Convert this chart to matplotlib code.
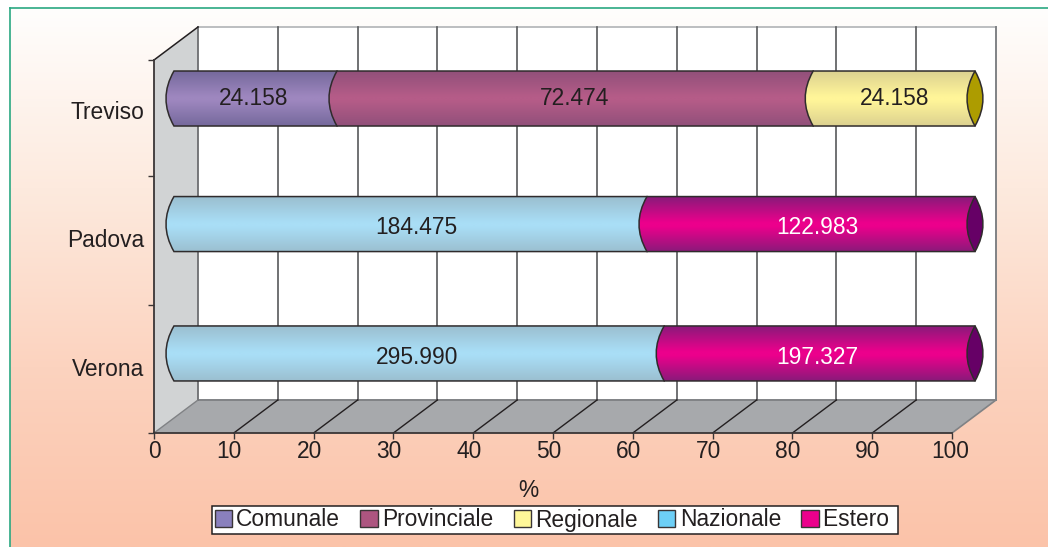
import numpy as np
import matplotlib
matplotlib.use("Agg")
import matplotlib.pyplot as plt
from matplotlib.colors import LinearSegmentedColormap
from matplotlib.lines import Line2D
from matplotlib.patches import PathPatch, Polygon, Patch
from matplotlib.path import Path
from matplotlib.transforms import Affine2D

plt.rcParams["font.family"] = ["Liberation Sans", "DejaVu Sans"]

# =========================================================
# DATA
# =========================================================

categories = ["Verona", "Padova", "Treviso"]
series_names = ["Comunale", "Provinciale", "Regionale", "Nazionale", "Estero"]

# printed values
comunale = [0, 0, 24.158]
provinciale = [0, 0, 72.474]
regionale = [0, 0, 24.158]
nazionale = [295.990, 184.475, 0]
estero = [197.327, 122.983, 0]

# bar lengths as drawn (%)
comunale_pct = [0, 0, 20.35]
provinciale_pct = [0, 0, 59.45]
regionale_pct = [0, 0, 20.2]
nazionale_pct = [61.2, 59.05, 0]
estero_pct = [38.8, 40.95, 0]

x_ticks = [0, 10, 20, 30, 40, 50, 60, 70, 80, 90, 100]

# =========================================================
# STYLE
# =========================================================

W, H = 1048, 547
TXT = "#231f20"
FS = 16.4

legend_colors = ["#8a80bd", "#ad5580", "#fff799", "#6dcff6", "#ec008c"]
mid_colors = ["#9e87bf", "#b55c88", "#fff599", "#a9def6", "#ec008c"]
edge_colors = ["#75699c", "#91507a", "#dcd190", "#9bbfd0", "#8a1a7a"]
label_colors = [TXT, TXT, TXT, TXT, "white"]
cap_colors = {2: "#ad9c00", 1: "#660066", 0: "#660066"}

# depth of the fake 3d box, in data units
DX = 44 / 7.98
DY = 33 / 128.5
Y_TOP = 373 / 128.5
BAR_Y = [0.619, 1.626, 2.603]
BAR_H = 0.428
BAR_X0 = 2.5
BAR_SCALE = 1.0038
BULGE = 2.0
# value labels are not quite centred on the bars in the original
LABEL_Y = [0.591, 1.603, 2.607]
LABEL_DX = [0.35, 0.3, 0.0]


def lens_edge(x, y, h, bulge):
    # pointed arc from the bottom corner to the top corner
    return [(x, y - h / 2), (x + bulge, y), (x, y + h / 2)]


def draw_segment(ax, x0, x1, y, h, mid, edge, z):
    a, ctrl, b = lens_edge(x0, y, h, -BULGE)
    verts = [a, (x1, y - h / 2), (x1, y + h / 2), b, ctrl, a, a]
    codes = [Path.MOVETO, Path.LINETO, Path.LINETO, Path.LINETO,
             Path.CURVE3, Path.CURVE3, Path.CLOSEPOLY]
    outline = PathPatch(Path(verts, codes), fc="none", ec="#2f2b2c", lw=1.1,
                        clip_on=False, zorder=z + 0.1)
    ax.add_patch(outline)

    cmap = LinearSegmentedColormap.from_list(
        "bar", [(0, edge), (0.46, mid), (0.54, mid), (1, edge)])
    grad = np.linspace(0, 1, 128).reshape(-1, 1)
    im = ax.imshow(grad, cmap=cmap, aspect="auto", zorder=z, interpolation="bilinear",
                   extent=(x0 - BULGE, x1 + 0.5, y - h / 2, y + h / 2))
    im.set_clip_path(outline)
    # the cylinders run past the axes box, so clip to the figure instead
    im.set_clip_box(ax.figure.bbox)


# =========================================================
# BACKGROUND
# =========================================================

fig = plt.figure(figsize=(W / 100, H / 100), dpi=100, facecolor="white")

bg = fig.add_axes([10 / W, 0, 1 - 10 / W, 1 - 8 / H], zorder=0)
bg_cmap = LinearSegmentedColormap.from_list("bg", ["#fffefd", "#fdeade", "#fcd3bf", "#fbc3a9"])
bg.imshow(np.linspace(0, 1, 256).reshape(-1, 1), cmap=bg_cmap, aspect="auto")
bg.axis("off")

fig.add_artist(Line2D([10 / W, 10 / W], [0, 1 - 8 / H], color="#2aa882", lw=1.2))
fig.add_artist(Line2D([10 / W, 1], [1 - 8 / H, 1 - 8 / H], color="#2aa882", lw=1.2))

# =========================================================
# CHART
# =========================================================

ax = fig.add_axes([154 / W, (H - 433) / H, 798 / W, 373 / H], zorder=1)
ax.patch.set_alpha(0)
ax.set_xlim(0, 100)
ax.set_ylim(0, Y_TOP)
ax.set_autoscale_on(False)

# back wall, left wall, floor
ax.add_patch(Polygon([(DX, DY), (100 + DX, DY), (100 + DX, Y_TOP + DY), (DX, Y_TOP + DY)],
                     fc="white", ec="none", clip_on=False, zorder=1))
ax.add_patch(Polygon([(0, 0), (DX, DY), (DX, Y_TOP + DY), (0, Y_TOP)],
                     fc="#d1d3d4", ec="none", clip_on=False, zorder=1.2))
ax.add_patch(Polygon([(0, 0), (100, 0), (100 + DX, DY), (DX, DY)],
                     fc="#a7a9ac", ec="none", clip_on=False, zorder=1.2))
ax.plot([DX, 100 + DX], [DY, DY], color="#808285", lw=1.4, clip_on=False, zorder=1.3)
ax.plot([DX, 100 + DX], [Y_TOP + DY, Y_TOP + DY], color="#bcbec0", lw=1.4, clip_on=False, zorder=1.3)
ax.plot([100 + DX, 100 + DX], [DY, Y_TOP + DY], color="#808285", lw=1.4, clip_on=False, zorder=1.3)
ax.plot([DX, DX], [DY, Y_TOP + DY], color="#6d6e71", lw=1.3, clip_on=False, zorder=1.3)
ax.plot([0, DX], [Y_TOP, Y_TOP + DY], color=TXT, lw=1.1, clip_on=False, zorder=1.3)
ax.plot([0, DX], [0, DY], color="#808285", lw=1.0, clip_on=False, zorder=1.3)
ax.plot([100, 100 + DX], [0, DY], color="#808285", lw=1.2, clip_on=False, zorder=1.3)

for t in x_ticks[1:-1]:
    ax.plot([t + DX, t + DX], [DY, Y_TOP + DY], color="#58595b", lw=1.2, clip_on=False, zorder=1.4)
    ax.plot([t, t + DX], [0, DY], color=TXT, lw=1.0, clip_on=False, zorder=1.4)

# stacked cylinders
values = [comunale, provinciale, regionale, nazionale, estero]
pcts = [comunale_pct, provinciale_pct, regionale_pct, nazionale_pct, estero_pct]

for row, y in enumerate(BAR_Y):
    start = 0.0
    val_start = 0.0
    val_total = sum(v[row] for v in values)
    z = 3
    for s in range(len(series_names)):
        p = pcts[s][row]
        if p == 0:
            continue
        x0 = BAR_X0 + start * BAR_SCALE
        x1 = BAR_X0 + (start + p) * BAR_SCALE
        draw_segment(ax, x0, x1, y, BAR_H, mid_colors[s], edge_colors[s], z)
        share = values[s][row] / val_total * 100
        ax.text(BAR_X0 + (val_start + share / 2) * BAR_SCALE + LABEL_DX[row], LABEL_Y[row],
                f"{values[s][row]:.3f}", ha="center", va="center", fontsize=FS,
                color=label_colors[s], zorder=20, clip_on=False)
        start += p
        val_start += share
        z += 1

    # end cap
    xe = BAR_X0 + 100 * BAR_SCALE
    a, c_l, b = lens_edge(xe, y, BAR_H, -BULGE)
    _, c_r, _ = lens_edge(xe, y, BAR_H, BULGE)
    cap = Path([a, c_r, b, c_l, a, a],
               [Path.MOVETO, Path.CURVE3, Path.CURVE3, Path.CURVE3, Path.CURVE3, Path.CLOSEPOLY])
    ax.add_patch(PathPatch(cap, fc=cap_colors[row], ec="#2f2b2c", lw=1.1, clip_on=False, zorder=15))

# axes
for side in ["top", "right"]:
    ax.spines[side].set_visible(False)
for side in ["left", "bottom"]:
    ax.spines[side].set_color("#3a3536")
    ax.spines[side].set_linewidth(1.3)
    ax.spines[side].set_zorder(10)

ax.set_xticks(x_ticks)
ax.set_xticklabels([str(t) for t in x_ticks], fontsize=FS, color=TXT)
ax.set_yticks([0, 1, 2, Y_TOP])
ax.set_yticklabels([])
ax.set_yticks([0.515, 1.515, 2.515], minor=True)
ax.set_yticklabels(categories, minor=True, fontsize=FS, color=TXT)
ax.tick_params(axis="both", which="major", length=4.3, width=1.0, color="#3a3536", pad=1.0)
ax.tick_params(axis="y", which="minor", length=0, pad=7)
ax.set_xlabel("%", fontsize=FS, color=TXT, labelpad=11, x=(528 - 154) / 798)

# the tick labels sit a little left of their ticks in the original
fig.canvas.draw()
for t, lab in zip(x_ticks, ax.get_xticklabels()):
    shift = 0 if t == 0 else (-2 if t == 100 else -4.5)
    lab.set_transform(lab.get_transform() + Affine2D().translate(shift, 0))

handles = [Patch(fc=c, ec="#3a3536", lw=1.0) for c in legend_colors]
# trailing space keeps the wider right margin of the legend box
legend_labels = series_names[:-1] + [series_names[-1] + " "]
leg = fig.legend(handles, legend_labels, ncol=5, loc="center",
                 bbox_to_anchor=(555 / W, (H - 520) / H), fontsize=FS,
                 frameon=True, fancybox=False, framealpha=1, facecolor="white",
                 edgecolor="#231f20", labelcolor=TXT, handlelength=0.75, handleheight=0.75,
                 handletextpad=0.2, columnspacing=0.89, borderpad=0.1, borderaxespad=0)
leg.get_frame().set_linewidth(1.1)

fig.savefig("out.png", dpi=100)
